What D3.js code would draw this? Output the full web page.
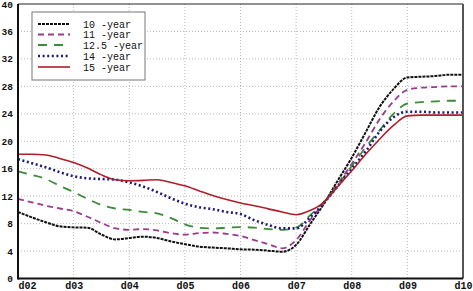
<!DOCTYPE html>
<html>
<head>
<meta charset="utf-8">
<script src="https://cdn.jsdelivr.net/npm/d3@7"></script>
<style>
  body { margin: 0; background: #fff; }
  svg text { font-family: "Liberation Mono", "DejaVu Sans Mono", monospace; fill: #111; }
</style>
</head>
<body>
<svg id="chart" width="473" height="291"></svg>
<script>
// x positions (d02 .. d10, quarter steps)
const xValues = [2,2.25,2.5,2.75,3,3.25,3.5,3.75,4,4.25,4.5,4.75,5,5.25,5.5,5.75,6,6.25,6.5,6.75,7,7.25,7.5,7.75,8,8.25,8.5,8.75,9,9.25,9.5,9.75,10]
const xTickLabels = ["d02","d03","d04","d05","d06","d07","d08","d09","d10"]
const yTicks = [0,4,8,12,16,20,24,28,32,36,40]

const seriesNames = ["10 -year","11 -year","12.5 -year","14 -year","15 -year"]

const y10 = [9.7,8.9,8.2,7.6,7.45,7.4,6.4,5.7,5.9,6.1,5.9,5.4,5.0,4.65,4.5,4.4,4.25,4.2,4.05,3.9,4.9,7.9,10.9,14.3,17.6,21.3,25.0,27.6,29.3,29.4,29.5,29.7,29.7]
const y11 = [11.6,11.1,10.6,10.2,9.8,9.0,8.1,7.3,7.1,7.2,7.0,6.6,6.4,6.6,6.7,6.5,6.2,5.6,5.0,4.4,5.6,8.5,11.0,13.8,16.7,19.8,23.2,25.8,27.5,27.8,27.9,28.0,28.0]
const y125 = [15.6,15.1,14.5,13.5,12.6,11.6,10.7,10.2,10.0,9.7,9.5,8.8,7.9,7.4,7.3,7.4,7.5,7.4,7.2,7.1,7.4,9.2,11.2,13.6,16.4,19.1,21.6,24.0,25.5,25.7,25.8,25.9,25.9]
const y14 = [17.4,16.8,16.2,15.5,14.9,14.6,14.5,14.4,14.0,13.4,12.6,11.7,10.9,10.4,10.1,9.7,9.4,8.5,7.8,7.3,7.3,8.9,11.0,13.5,16.0,18.5,21.4,23.5,24.3,24.3,24.2,24.2,24.2]
const y15 = [18.1,18.1,18.0,17.5,16.9,16.1,15.1,14.4,14.25,14.3,14.4,14.0,13.5,12.8,12.1,11.5,11.0,10.6,10.15,9.7,9.3,9.9,11.1,13.4,15.7,18.1,20.3,22.3,23.7,23.8,23.8,23.8,23.8]

const lineStyles = [
  { color: "#111111", dash: "3,1", width: 2 },
  { color: "#9a3b8c", dash: "6,4", width: 1.8 },
  { color: "#3a8c3a", dash: "9,7", width: 1.8 },
  { color: "#1c1c78", dash: "2,2.6", width: 2.6 },
  { color: "#b01e2a", dash: null, width: 1.6 }
]

const allY = [y10, y11, y125, y14, y15]
const series = seriesNames.map((name, i) => ({
  name: name,
  values: xValues.map((x, j) => ({ x: x, y: allY[i][j] }))
}))

const svg = d3.select("#chart")
const mLeft = 18, mRight = 463, mTop = 4, mBottom = 278.5

const x = d3.scaleLinear().domain([2, 10]).range([mLeft, mRight])
const y = d3.scaleLinear().domain([0, 40]).range([mBottom, mTop])

// grid
svg.append("g").selectAll("line")
  .data(d3.range(3, 10))
  .join("line")
  .attr("x1", d => x(d)).attr("x2", d => x(d))
  .attr("y1", mTop).attr("y2", mBottom)
  .attr("stroke", "#b8b8b8").attr("stroke-width", 1)
  .attr("stroke-dasharray", "1,2")

svg.append("g").selectAll("line")
  .data(yTicks.slice(1, -1))
  .join("line")
  .attr("x1", mLeft).attr("x2", mRight)
  .attr("y1", d => y(d)).attr("y2", d => y(d))
  .attr("stroke", "#b8b8b8").attr("stroke-width", 1)
  .attr("stroke-dasharray", "1,2")

// lines
const line = d3.line()
  .x(d => x(d.x))
  .y(d => y(d.y))
  .curve(d3.curveMonotoneX)

series.forEach((s, i) => {
  const st = lineStyles[i]
  svg.append("path")
    .datum(s.values)
    .attr("d", line)
    .attr("fill", "none")
    .attr("stroke", st.color)
    .attr("stroke-width", st.width)
    .attr("stroke-dasharray", st.dash)
})

// frame
svg.append("line").attr("x1", mLeft).attr("x2", mRight).attr("y1", mTop).attr("y2", mTop)
  .attr("stroke", "#222").attr("stroke-width", 1)
svg.append("line").attr("x1", mRight).attr("x2", mRight).attr("y1", mTop).attr("y2", mBottom)
  .attr("stroke", "#555").attr("stroke-width", 2)
svg.append("line").attr("x1", mLeft).attr("x2", mLeft).attr("y1", mTop).attr("y2", mBottom + 1)
  .attr("stroke", "#111").attr("stroke-width", 2)
svg.append("line").attr("x1", mLeft).attr("x2", mRight).attr("y1", mBottom).attr("y2", mBottom)
  .attr("stroke", "#111").attr("stroke-width", 2)

// axes labels
const yAxis = d3.axisLeft(y).tickValues(yTicks).tickSize(0).tickPadding(5)
svg.append("g")
  .attr("transform", `translate(${mLeft},0)`)
  .call(yAxis)
  .call(g => g.select(".domain").remove())
  .selectAll("text")
  .style("font-size", "9.5px").style("font-weight", "bold")

const xAxis = d3.axisBottom(x).tickValues(d3.range(2, 11)).tickFormat((d, i) => xTickLabels[i]).tickSize(0).tickPadding(3)
svg.append("g")
  .attr("transform", `translate(0,${mBottom})`)
  .call(xAxis)
  .call(g => g.select(".domain").remove())
  .selectAll("text")
  .style("font-size", "10px").style("font-weight", "bold")
  .attr("text-anchor", (d, i) => i === 0 ? "start" : "middle")

// legend
const legend = svg.append("g")
legend.append("rect")
  .attr("x", 32).attr("y", 12).attr("width", 113).attr("height", 68)
  .attr("fill", "#fff").attr("stroke", "#777").attr("stroke-width", 1)

const rowY = [24, 34.5, 45, 56, 67]
series.forEach((s, i) => {
  const st = lineStyles[i]
  legend.append("line")
    .attr("x1", 38).attr("x2", 70)
    .attr("y1", rowY[i]).attr("y2", rowY[i])
    .attr("stroke", st.color)
    .attr("stroke-width", st.width)
    .attr("stroke-dasharray", st.dash)
  legend.append("text")
    .attr("x", 83).attr("y", rowY[i])
    .attr("dy", "0.35em")
    .style("font-size", "10px")
    .text(s.name)
})
</script>
</body>
</html>
